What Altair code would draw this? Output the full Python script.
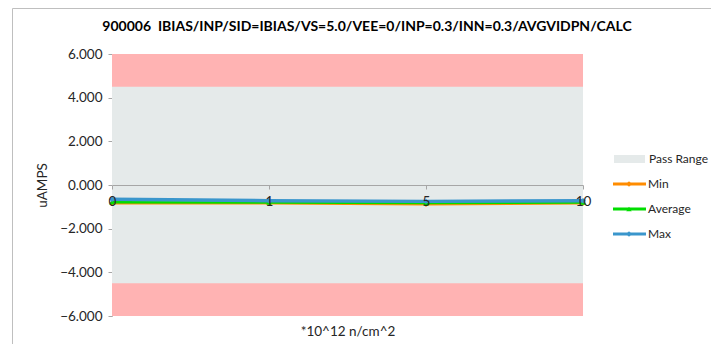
import altair as alt
import pandas as pd

# ---- data ----
doses = ["0", "1", "5", "10"]
min_vals = [-0.84, -0.84, -0.88, -0.84]
avg_vals = [-0.79, -0.80, -0.83, -0.80]
max_vals = [-0.65, -0.72, -0.75, -0.72]

band_lo = [-6.0, -4.5]
band_hi = [6.0, 4.5]
band_name = ["Fail", "Pass Range"]

series_names = ["Min", "Average", "Max"]
series_colors = ["#FF8C00", "#00DD00", "#3A96CC"]
series_shapes = ["diamond", "triangle-up", "diamond"]

title_text = "900006\u00a0\u00a0IBIAS/INP/SID=IBIAS/VS=5.0/VEE=0/INP=0.3/INN=0.3/AVGVIDPN/CALC"
y_title = "uAMPS"
x_title = "*10^12 n/cm^2"

FONT = "Lato"
PINK = "#FFB3B3"
GREY = "#E5EAEA"

W, H = 471, 262

bands = pd.DataFrame({"lo": band_lo, "hi": band_hi, "name": band_name})
band_layer = alt.Chart(bands).mark_rect().encode(
    x=alt.value(0),
    x2=alt.value("width"),
    y=alt.Y("lo:Q", scale=alt.Scale(domain=[-6, 6], nice=False, zero=False),
            axis=alt.Axis(title=y_title, format=".3f", values=[-6, -4, -2, 0, 2, 4, 6],
                          grid=False, domainColor="#A6A6A6", tickColor="#A6A6A6",
                          tickSize=4, labelFont=FONT, labelFontSize=13.5, labelColor="#262626",
                          labelPadding=6, titleFont=FONT, titleFontSize=13.5,
                          titleFontWeight="normal", titleColor="#262626", titlePadding=10)),
    y2="hi:Q",
    color=alt.Color("name:N", scale=alt.Scale(domain=band_name, range=[PINK, GREY]), legend=None),
)

xenc = alt.X("dose:O", sort=doses, scale=alt.Scale(type="point", padding=0),
             axis=alt.Axis(title=x_title, labelAngle=0, offset=-131, domainColor="#A6A6A6",
                           tickColor="#A6A6A6", tickSize=4, labelFont=FONT, labelFontSize=13.5,
                           labelColor="#262626", labelPadding=5, titleFont=FONT,
                           titleFontSize=13.5, titleFontWeight="normal", titleColor="#262626",
                           titleY=139, zindex=1))
yscale = alt.Scale(domain=[-6, 6], nice=False, zero=False)

layers = [band_layer]
for name, vals, col, shp, sw in zip(series_names, [min_vals, avg_vals, max_vals],
                                    series_colors, series_shapes, [2.5, 2.5, 3.5]):
    df = pd.DataFrame({"dose": doses, "val": vals})
    base = alt.Chart(df).encode(x=xenc, y=alt.Y("val:Q", scale=yscale))
    layers.append(base.mark_line(color=col, strokeWidth=sw))
    layers.append(base.mark_point(color=col, filled=True, shape=shp, size=30, opacity=1))

# ---- manual legend ----
leg_df = pd.DataFrame({"k": [0]})
lg = alt.Chart(leg_df)
layers.append(lg.mark_rect(color=GREY).encode(
    x=alt.value(502), x2=alt.value(533), y=alt.value(101), y2=alt.value(109)))
layers.append(lg.mark_text(align="left", baseline="middle", font=FONT, fontSize=12,
                           color="#262626", text="Pass Range").encode(
    x=alt.value(537), y=alt.value(105)))
for i, (name, col, shp) in enumerate(zip(series_names, series_colors, series_shapes)):
    yy = 130 + 25 * i
    layers.append(lg.mark_rule(color=col, strokeWidth=3).encode(
        x=alt.value(501), x2=alt.value(534), y=alt.value(yy)))
    layers.append(lg.mark_point(color=col, filled=True, shape=shp, size=30, opacity=1).encode(
        x=alt.value(517), y=alt.value(yy)))
    layers.append(lg.mark_text(align="left", baseline="middle", font=FONT, fontSize=12,
                               color="#262626", text=name).encode(
        x=alt.value(536), y=alt.value(yy)))

# ---- title as text ----
layers.append(lg.mark_text(align="center", baseline="middle", font=FONT, fontSize=14,
                           fontWeight="bold", color="#000000", text=title_text).encode(
    x=alt.value(255), y=alt.value(-27)))

# ---- outer border (partial, as in reference) ----
layers.append(lg.mark_rule(color="#BFBFBF", strokeWidth=1).encode(
    x=alt.value(-99.5), y=alt.value(-45.5), y2=alt.value(290)))
layers.append(lg.mark_rule(color="#BFBFBF", strokeWidth=1).encode(
    x=alt.value(-99.5), x2=alt.value(700), y=alt.value(-45.5)))

chart = alt.layer(*layers).properties(
    width=W, height=H,
    autosize=alt.AutoSizeParams(type="none"),
    padding={"left": 104, "top": 46, "right": 128, "bottom": 28},
).configure_view(stroke=None)

chart.save("out.html", embed_options={"renderer": "svg", "actions": False})
